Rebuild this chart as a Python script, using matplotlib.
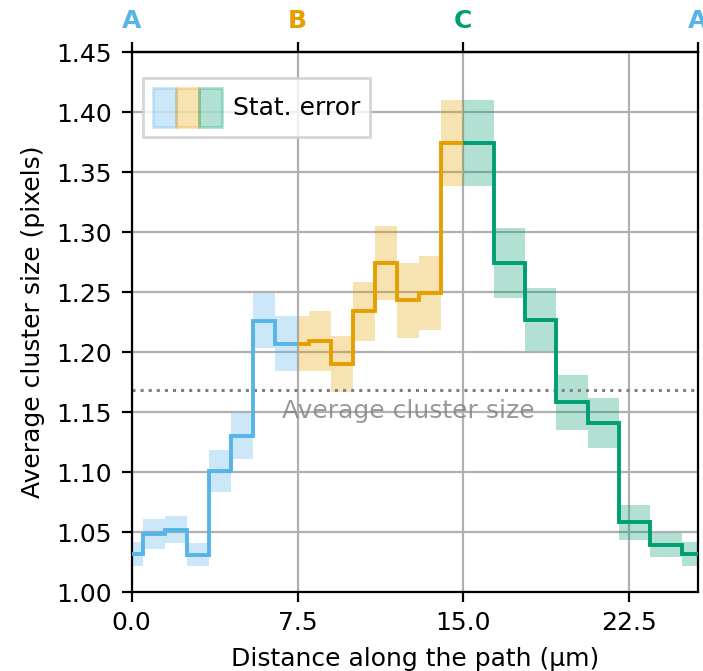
import numpy as np
import matplotlib
matplotlib.use("Agg")
import matplotlib.pyplot as plt
from matplotlib.patches import Patch
from matplotlib.legend_handler import HandlerTuple

# Okabe-Ito colours for the three path segments
c_ab = "#56B4E9"
c_bc = "#E69F00"
c_ca = "#009E73"

# segment A -> B
edges_ab = np.array([0.0, 0.5, 1.5, 2.5, 3.5, 4.5, 5.5, 6.5, 7.5])
size_ab = np.array([1.032, 1.048, 1.052, 1.031, 1.101, 1.130, 1.226, 1.207])
err_ab = np.array([0.010, 0.0125, 0.0115, 0.0095, 0.0175, 0.019, 0.023, 0.023])

# segment B -> C
edges_bc = np.array([7.5, 8.0, 9.0, 10.0, 11.0, 12.0, 13.0, 14.0, 15.0])
size_bc = np.array([1.207, 1.209, 1.190, 1.234, 1.274, 1.243, 1.249, 1.374])
err_bc = np.array([0.023, 0.025, 0.0235, 0.0245, 0.031, 0.031, 0.031, 0.036])

# segment C -> A
edges_ca = np.array([15.0, 16.38, 17.8, 19.2, 20.62, 22.05, 23.45, 24.88, 25.6])
size_ca = np.array([1.374, 1.274, 1.227, 1.158, 1.141, 1.058, 1.039, 1.032])
err_ca = np.array([0.036, 0.029, 0.026, 0.023, 0.021, 0.0145, 0.010, 0.010])

avg_size = 1.168
corner_pos = [0.0, 7.5, 15.0, 25.6]
corner_names = ["A", "B", "C", "A"]
corner_colors = [c_ab, c_bc, c_ca, c_ab]

plt.rcParams["font.size"] = 9

fig, ax = plt.subplots(figsize=(3.515, 3.355), dpi=200)
fig.subplots_adjust(left=0.1873, right=0.9925, top=0.9225, bottom=0.1177)

segments = [
    (edges_ab, size_ab, err_ab, c_ab),
    (edges_bc, size_bc, err_bc, c_bc),
    (edges_ca, size_ca, err_ca, c_ca),
]
for edges, vals, err, col in segments:
    ax.stairs(vals + err, edges, baseline=vals - err, fill=True,
              color=col, alpha=0.3, lw=0, zorder=2)
    ax.stairs(vals, edges, baseline=None, color=col, lw=1.4, zorder=3)

ax.axhline(avg_size, color="gray", ls=":", lw=1.1, zorder=2.5)
ax.text(12.5, avg_size - 0.007, "Average cluster size", ha="center", va="top",
        color="gray", alpha=0.8, zorder=4)

ax.set_xlim(0, 25.6)
ax.set_ylim(1.0, 1.45)
ax.set_xticks([0.0, 7.5, 15.0, 22.5])
ax.set_xticklabels(["0.0", "7.5", "15.0", "22.5"])
ax.set_yticks(np.arange(1.0, 1.451, 0.05))
ax.yaxis.set_major_formatter(matplotlib.ticker.FormatStrFormatter("%.2f"))
ax.grid(True, color="#b0b0b0", lw=0.8, zorder=0)
ax.set_axisbelow(True)
ax.set_xlabel("Distance along the path (μm)")
ax.set_ylabel("Average cluster size (pixels)")

top = ax.secondary_xaxis("top")
top.set_xticks(corner_pos)
top.set_xticklabels(corner_names, fontweight="bold")
for lab, col in zip(top.get_xticklabels(), corner_colors):
    lab.set_color(col)

handle = tuple(Patch(facecolor=c, edgecolor=c, alpha=0.3) for c in (c_ab, c_bc, c_ca))
ax.legend([handle], ["Stat. error"], handler_map={tuple: HandlerTuple(ndivide=None, pad=0)},
          loc="upper left", bbox_to_anchor=(0.02, 0.952), borderaxespad=0,
          fancybox=False, handlelength=2.75, handleheight=2.0, handletextpad=0.45)

fig.savefig("out.png", dpi=200)
